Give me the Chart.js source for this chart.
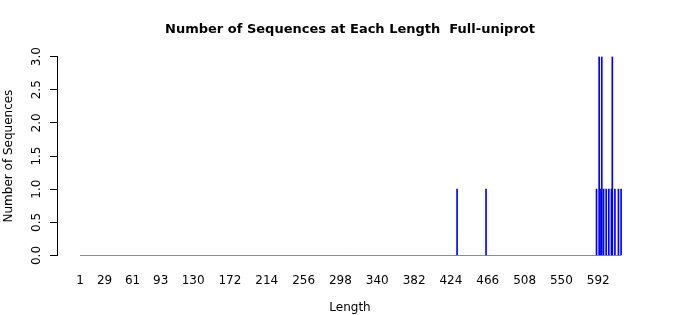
<!DOCTYPE html>
<html>
<head>
<meta charset="utf-8">
<script src="https://cdn.jsdelivr.net/npm/chart.js@4/dist/chart.umd.min.js"></script>
<style>
    html, body { margin: 0; padding: 0; background: #fff; }
    #wrap { width: 700px; height: 315px; }
</style>
</head>
<body>
<div id="wrap"><canvas id="lengthChart"></canvas></div>
<script>
// sequence lengths that occur, and how many sequences have each length
const lengths = [431, 464, 590, 593, 595, 596, 598, 601, 604, 607, 608, 611, 615, 618];
const counts  = [1,   1,   1,   3,   1,   3,   1,   1,   1,   1,   3,   1,   1,   1];

// range of lengths shown on the axis (zero-height bars in between)
const firstLength = 1;
const lastLength = 618;

const xTickLabels = [1, 29, 61, 93, 130, 172, 214, 256, 298, 340, 382, 424, 466, 508, 550, 592];
const yTickLabels = [0, 0.5, 1, 1.5, 2, 2.5, 3];

const blue = '#0000FF';
const font = "'DejaVu Sans', sans-serif";

const barData = lengths.map(function (len, i) {
    return {x: len, y: counts[i]};
});
const baseData = [{x: firstLength, y: 0}, {x: lastLength, y: 0}];

const config = {
    type: 'bar',
    data: {
        datasets: [
            {
                type: 'line',
                data: baseData,
                borderColor: blue,
                borderWidth: 1,
                pointRadius: 0,
                fill: false,
            },
            {
                type: 'bar',
                data: barData,
                backgroundColor: blue,
                borderWidth: 0,
                barThickness: 1,
            }]
    },
    options: {
        responsive: true,
        maintainAspectRatio: false,
        animation: false,
        layout: {
            padding: 0
        },
        plugins: {
            legend: {display: false},
            tooltip: {enabled: false},
            title: {
                display: true,
                text: 'Number of Sequences at Each Length  Full-uniprot',
                color: '#000',
                font: {family: font, size: 13, weight: 'bold'},
                padding: {top: 22, bottom: 19},
            },
        },
        scales: {
            x: {
                type: 'linear',
                offset: false,
                min: -25.2,
                max: 643,
                grid: {display: false, offset: false},
                border: {display: false},
                afterBuildTicks: function (scale) {
                    scale.ticks = xTickLabels.map(function (v) { return {value: v}; });
                },
                afterFit: function (scale) {
                    scale.height = 59.5;
                },
                ticks: {
                    autoSkip: false,
                    maxRotation: 0,
                    padding: 10,
                    color: '#000',
                    font: {family: font, size: 12},
                    callback: function (value) {
                        return String(value);
                    }
                },
                title: {
                    display: true,
                    text: 'Length',
                    color: '#000',
                    font: {family: font, size: 12},
                    padding: {top: 0, bottom: 0},
                },
            },
            y: {
                min: 0,
                max: 3,
                afterBuildTicks: function (scale) {
                    scale.ticks = yTickLabels.map(function (v) { return {value: v}; });
                },
                afterFit: function (scale) {
                    scale.width = 57;
                },
                grid: {
                    drawOnChartArea: false,
                    drawTicks: true,
                    tickLength: 7,
                    color: '#000',
                },
                border: {display: true, color: '#000', width: 1},
                ticks: {
                    minRotation: 90,
                    maxRotation: 90,
                    crossAlign: 'center',
                    padding: 4,
                    color: '#000',
                    font: {family: font, size: 12},
                    callback: function (value) {
                        return value.toFixed(1);
                    }
                },
                title: {
                    display: true,
                    text: 'Number of Sequences',
                    color: '#000',
                    font: {family: font, size: 12},
                    padding: {top: 2, bottom: 0},
                },
            },
            // empty right margin, same width as the left axis
            yRight: {
                position: 'right',
                min: 0,
                max: 3,
                grid: {display: false},
                border: {display: false},
                ticks: {display: false},
                afterFit: function (scale) {
                    scale.width = 57;
                },
            },
        }
    },
};

const ctx = document.getElementById('lengthChart');
const lengthChart = new Chart(ctx, config);
</script>
</body>
</html>
